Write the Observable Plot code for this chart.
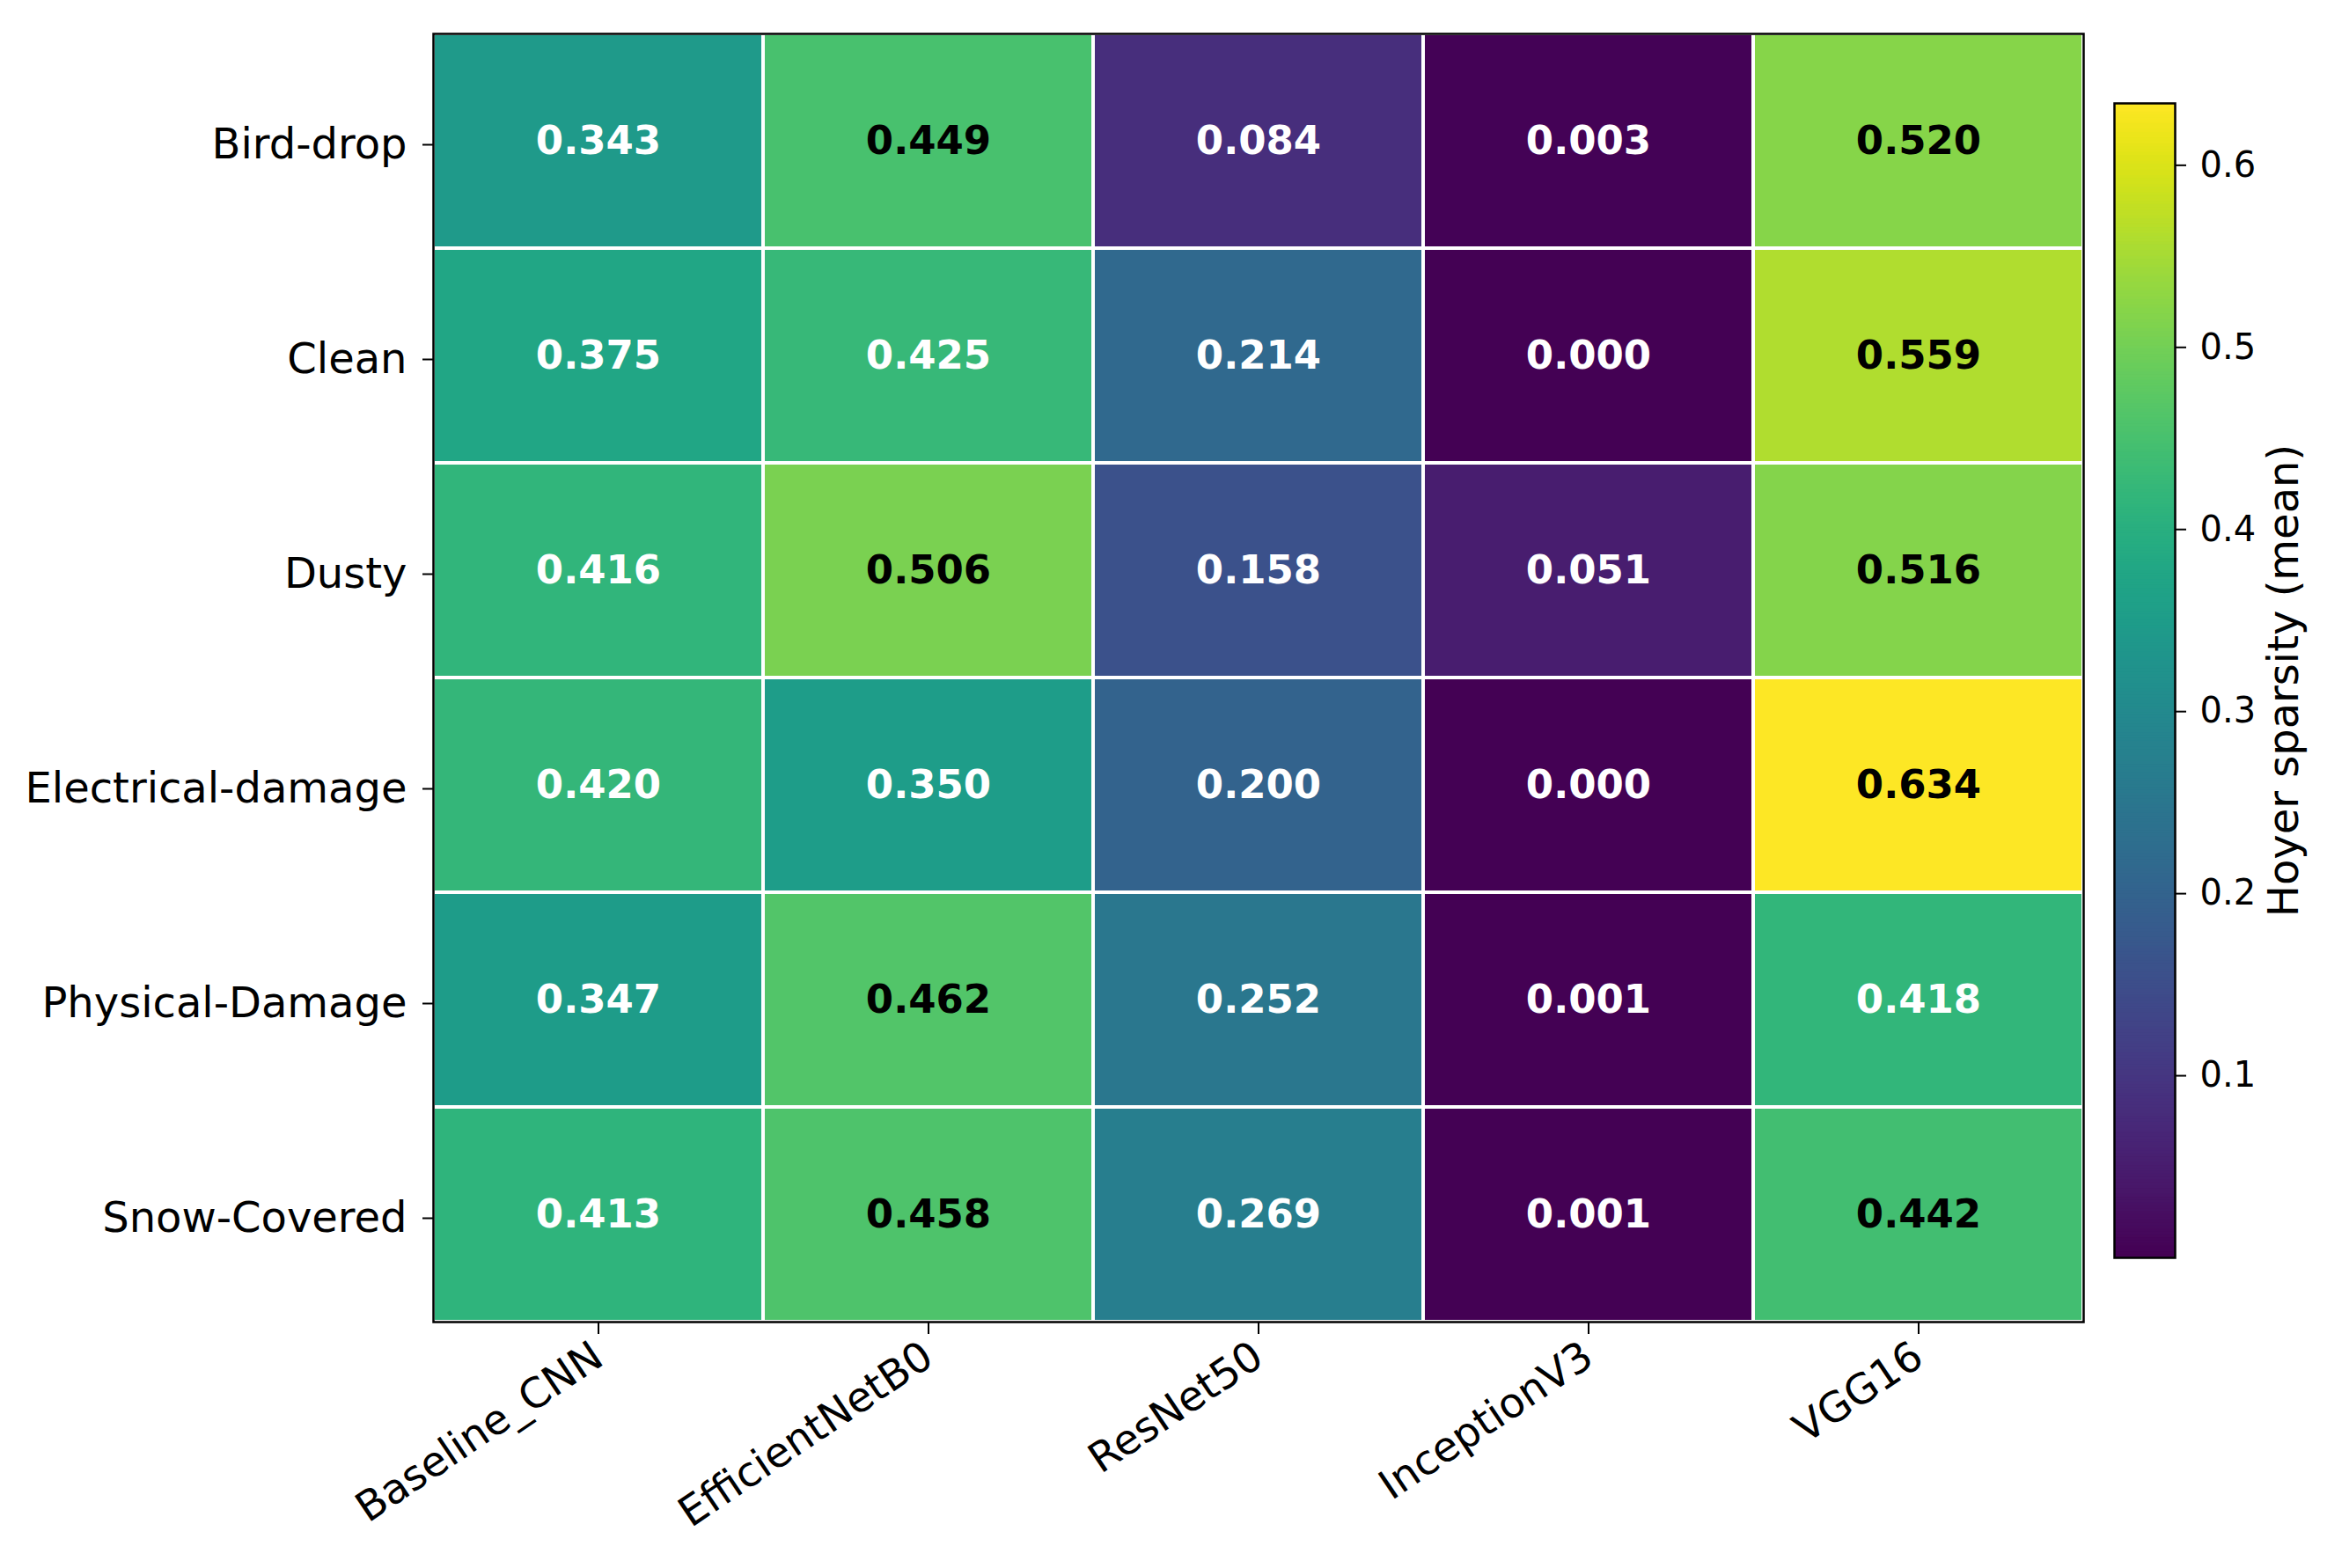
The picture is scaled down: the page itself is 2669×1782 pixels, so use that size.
<!DOCTYPE html>
<html>
<head>
<meta charset="utf-8">
<script src="https://cdn.jsdelivr.net/npm/d3@7"></script>
<script src="https://cdn.jsdelivr.net/npm/@observablehq/plot@0.6"></script>
<style>
  html, body { margin: 0; padding: 0; background: #fff; }
  #wrap { position: relative; width: 2669px; height: 1782px; background: #fff; font-family: "DejaVu Sans", sans-serif; }
  #wrap > svg { position: absolute; }
</style>
</head>
<body>
<div id="wrap"></div>
<script>
// ---- data ----
const categories = ["Bird-drop", "Clean", "Dusty", "Electrical-damage", "Physical-Damage", "Snow-Covered"];
const models = ["Baseline_CNN", "EfficientNetB0", "ResNet50", "InceptionV3", "VGG16"];
const baselineCNN    = [0.343, 0.375, 0.416, 0.420, 0.347, 0.413];
const efficientNetB0 = [0.449, 0.425, 0.506, 0.350, 0.462, 0.458];
const resNet50       = [0.084, 0.214, 0.158, 0.200, 0.252, 0.269];
const inceptionV3    = [0.003, 0.000, 0.051, 0.000, 0.001, 0.001];
const vgg16          = [0.520, 0.559, 0.516, 0.634, 0.418, 0.442];
const colorbarTicks  = [0.1, 0.2, 0.3, 0.4, 0.5, 0.6];
const colorbarLabel  = "Hoyer sparsity (mean)";

const seriesByModel = [baselineCNN, efficientNetB0, resNet50, inceptionV3, vgg16];
const table = [];
models.forEach((m, j) => categories.forEach((c, i) => table.push({model: m, category: c, value: seriesByModel[j][i]})));
const extent = d3.extent(table, d => d.value);
const colorScale = {type: "linear", scheme: "viridis", domain: extent};

const font = "DejaVu Sans";

const heat = Plot.plot({
  width: 2669,
  height: 1782,
  marginLeft: 492,
  marginRight: 302,
  marginTop: 38,
  marginBottom: 280,
  style: {fontFamily: font, fontSize: "48px", background: "transparent", color: "black"},
  x: {type: "band", domain: models, padding: 0, label: null},
  y: {type: "band", domain: categories, padding: 0, label: null},
  color: colorScale,
  marks: [
    Plot.cell(table, {x: "model", y: "category", fill: "value", stroke: "white", strokeWidth: 4}),
    Plot.text(table, {x: "model", y: "category", text: d => d.value.toFixed(3),
      fill: d => d.value >= 0.44 ? "black" : "white", fontWeight: "bold", fontSize: 45, fontFamily: font}),
    Plot.frame({stroke: "black", strokeWidth: 2.5}),
    Plot.axisY({tickSize: 12, tickPadding: 18, fontSize: 48, fontFamily: font, label: null, strokeWidth: 2, dy: 4}),
    Plot.axisX({tickSize: 14, tickPadding: 20, tickRotate: -34, fontSize: 47, fontFamily: font, label: null, strokeWidth: 2})
  ]
});

const step = extent[1] / 400;
const stops = d3.range(extent[0], extent[1], step);

const bar = Plot.plot({
  width: 369,
  height: 1782,
  marginLeft: 102,
  marginRight: 198,
  marginTop: 117,
  marginBottom: 353,
  style: {fontFamily: font, fontSize: "40px", background: "transparent", color: "black"},
  y: {type: "linear", domain: extent, label: null},
  color: colorScale,
  marks: [
    Plot.rect(stops, {y1: d => d, y2: d => Math.min(d + step * 1.5, extent[1]), fill: d => d}),
    Plot.frame({stroke: "black", strokeWidth: 2.5}),
    Plot.axisY({anchor: "right", ticks: colorbarTicks, tickFormat: d3.format(".1f"), tickSize: 12, tickPadding: 16, fontSize: 40, fontFamily: font, label: null, strokeWidth: 2}),
    Plot.text([colorbarLabel], {text: d => d, frameAnchor: "right", textAnchor: "middle", dx: 124, rotate: -90, fontSize: 48, fontFamily: font, fill: "black"})
  ]
});

const wrap = document.getElementById("wrap");
heat.style.left = "0px"; heat.style.top = "0px";
bar.style.left = "2300px"; bar.style.top = "0px";
wrap.appendChild(heat);
wrap.appendChild(bar);
</script>
</body>
</html>
